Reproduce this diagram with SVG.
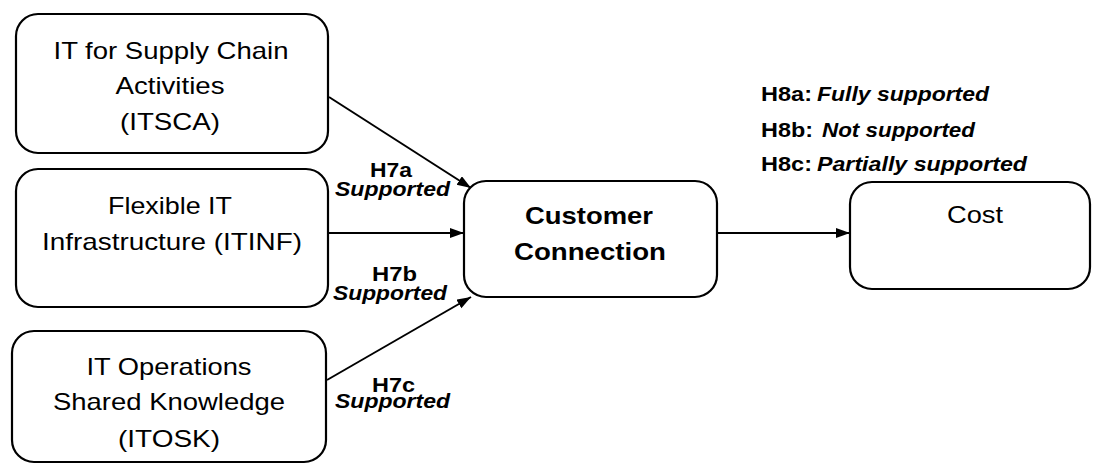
<svg xmlns="http://www.w3.org/2000/svg" width="1093" height="464" viewBox="0 0 1093 464">
<style>
.box{fill:#fff;stroke:#000;stroke-width:2.2}
.t{font-family:"Liberation Sans",Arial,sans-serif;font-size:24px;fill:#000;text-anchor:middle}
.tb{font-family:"Liberation Sans",Arial,sans-serif;font-size:24px;font-weight:bold;fill:#000;text-anchor:middle}
.l{font-family:"Liberation Sans",Arial,sans-serif;font-size:20px;font-weight:bold;fill:#000}
.h8{font-size:21px}
.li{font-style:italic}
.c{stroke:#000;stroke-width:2;fill:none;marker-end:url(#ah)}
</style>
<defs>
<marker id="ah" markerUnits="userSpaceOnUse" markerWidth="16" markerHeight="12" refX="14" refY="5" orient="auto">
<path d="M0,0 L14,5 L0,10 z" fill="#000"/>
</marker>
</defs>
<rect width="1093" height="464" fill="#fff"/>
<g id="connectors">
<line class="c" x1="329" y1="97" x2="471" y2="188"/>
<line class="c" x1="328" y1="233" x2="464" y2="233"/>
<line class="c" x1="327" y1="380" x2="471" y2="297"/>
<line class="c" x1="717" y1="233" x2="850" y2="233"/>
</g>
<g id="itsca">
<rect class="box" x="16" y="14" width="312" height="139" rx="22"/>
<text class="t" x="171" y="59" textLength="235" lengthAdjust="spacingAndGlyphs">IT for Supply Chain</text>
<text class="t" x="170" y="94" textLength="109" lengthAdjust="spacingAndGlyphs">Activities</text>
<text class="t" x="170" y="130" textLength="100" lengthAdjust="spacingAndGlyphs">(ITSCA)</text>
</g>
<g id="itinf">
<rect class="box" x="16" y="169" width="312" height="138" rx="22"/>
<text class="t" x="170" y="214" textLength="124" lengthAdjust="spacingAndGlyphs">Flexible IT</text>
<text class="t" x="172" y="250" textLength="260" lengthAdjust="spacingAndGlyphs">Infrastructure (ITINF)</text>
</g>
<g id="itosk">
<rect class="box" x="12" y="331" width="314" height="131" rx="22"/>
<text class="t" x="169" y="375" textLength="165" lengthAdjust="spacingAndGlyphs">IT Operations</text>
<text class="t" x="169" y="410" textLength="232" lengthAdjust="spacingAndGlyphs">Shared Knowledge</text>
<text class="t" x="169" y="447" textLength="102" lengthAdjust="spacingAndGlyphs">(ITOSK)</text>
</g>
<g id="customer-connection">
<rect class="box" x="464" y="181" width="253" height="116" rx="22"/>
<text class="tb" x="589" y="224" textLength="128" lengthAdjust="spacingAndGlyphs">Customer</text>
<text class="tb" x="590" y="260" textLength="152" lengthAdjust="spacingAndGlyphs">Connection</text>
</g>
<g id="cost">
<rect class="box" x="850" y="182" width="240" height="107" rx="22"/>
<text class="t" x="975" y="223" textLength="56" lengthAdjust="spacingAndGlyphs">Cost</text>
</g>
<g id="labels">
<text class="l" x="370" y="177" textLength="42" lengthAdjust="spacingAndGlyphs">H7a</text>
<text class="l li" x="335" y="196" textLength="115" lengthAdjust="spacingAndGlyphs">Supported</text>
<text class="l" x="372" y="281" textLength="45" lengthAdjust="spacingAndGlyphs">H7b</text>
<text class="l li" x="333" y="300" textLength="114" lengthAdjust="spacingAndGlyphs">Supported</text>
<text class="l" x="372" y="392" textLength="43" lengthAdjust="spacingAndGlyphs">H7c</text>
<text class="l li" x="335" y="408" textLength="115" lengthAdjust="spacingAndGlyphs">Supported</text>
<text class="l h8" x="761" y="101" textLength="51" lengthAdjust="spacingAndGlyphs">H8a:</text>
<text class="l li h8" x="817" y="101" textLength="172" lengthAdjust="spacingAndGlyphs">Fully supported</text>
<text class="l h8" x="761" y="137" textLength="52" lengthAdjust="spacingAndGlyphs">H8b:</text>
<text class="l li h8" x="822" y="137" textLength="153" lengthAdjust="spacingAndGlyphs">Not supported</text>
<text class="l h8" x="761" y="171" textLength="51" lengthAdjust="spacingAndGlyphs">H8c:</text>
<text class="l li h8" x="817" y="171" textLength="210" lengthAdjust="spacingAndGlyphs">Partially supported</text>
</g>
</svg>
